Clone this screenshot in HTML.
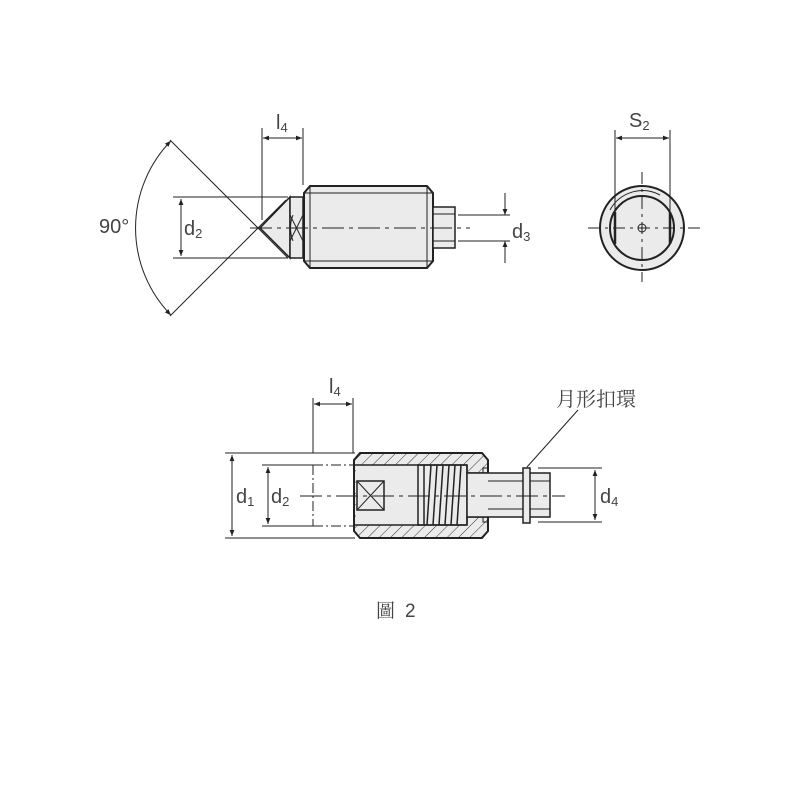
<!DOCTYPE html>
<html><head><meta charset="utf-8"><style>
html,body{margin:0;padding:0;background:#fff;}
svg{display:block}
text{font-family:"Liberation Sans","Noto Sans CJK TC",sans-serif;fill:#444;}
</style></head><body>
<svg width="800" height="800" viewBox="0 0 800 800" xmlns="http://www.w3.org/2000/svg">
<defs>
<marker id="a" viewBox="0 0 10 10" refX="10" refY="5" markerWidth="9" markerHeight="6" orient="auto-start-reverse" markerUnits="userSpaceOnUse"><path d="M0,1 L10,5 L0,9 z" fill="#222"/></marker>
<pattern id="h" width="8" height="8" patternUnits="userSpaceOnUse" patternTransform="rotate(45)"><rect width="8" height="8" fill="#ebebeb"/><line x1="0" y1="0" x2="0" y2="8" stroke="#333" stroke-width="1"/></pattern>
</defs>
<g stroke="#222" stroke-width="1" fill="none">
<line x1="173" y1="197" x2="288" y2="197"/><line x1="173" y1="258" x2="288" y2="258"/>
<line x1="181" y1="199" x2="181" y2="256" marker-start="url(#a)" marker-end="url(#a)"/>
<line x1="170" y1="140" x2="288" y2="258"/><line x1="170" y1="316" x2="286" y2="200"/>
<path d="M170.9,140.9 A125,125 0 0 0 170.9,315.1" marker-start="url(#a)" marker-end="url(#a)"/>
<line x1="262" y1="128" x2="262" y2="220"/><line x1="303" y1="128" x2="303" y2="185"/>
<line x1="263" y1="138" x2="302" y2="138" marker-start="url(#a)" marker-end="url(#a)"/>
<path d="M260,228 L290,197 L290,258 Z" fill="#ebebeb" stroke-width="1.5"/>
<rect x="290" y="197" width="13" height="61" fill="#ebebeb" stroke-width="1.5"/>
<line x1="290" y1="215" x2="303" y2="241"/><line x1="290" y1="241" x2="303" y2="215"/>
<path d="M293,215 Q288,228 293,241"/>
<path d="M310,186 L427,186 L433,193 L433,261 L427,268 L310,268 L304,261 L304,193 Z" fill="#ebebeb" stroke-width="2"/>
<line x1="304" y1="193" x2="433" y2="193"/><line x1="304" y1="261" x2="433" y2="261"/>
<line x1="310" y1="186" x2="310" y2="268"/><line x1="427" y1="186" x2="427" y2="268"/>
<rect x="433" y="207" width="22" height="41" fill="#ebebeb" stroke-width="1.5"/>
<line x1="433" y1="214" x2="455" y2="214"/><line x1="433" y1="241" x2="455" y2="241"/>
<line x1="250" y1="228" x2="470" y2="228" stroke-dasharray="22,5,4,5"/>
<line x1="458" y1="215" x2="510" y2="215"/><line x1="458" y1="241" x2="510" y2="241"/>
<line x1="505" y1="193" x2="505" y2="215" marker-end="url(#a)"/>
<line x1="505" y1="263" x2="505" y2="241" marker-end="url(#a)"/>
<circle cx="642" cy="228" r="42" fill="#ebebeb" stroke-width="2"/>
<path d="M610,210 A37,37 0 0 1 660,195"/>
<circle cx="642" cy="228" r="32" fill="#ebebeb" stroke-width="2"/>
<line x1="615" y1="212" x2="615" y2="244" stroke-width="2.5"/><line x1="670" y1="212" x2="670" y2="244" stroke-width="2.5"/>
<circle cx="642" cy="228" r="4"/>
<line x1="588" y1="228" x2="700" y2="228" stroke-dasharray="12,5,3,5"/>
<line x1="642" y1="172" x2="642" y2="282" stroke-dasharray="12,5,3,5"/>
<line x1="615" y1="130" x2="615" y2="212"/><line x1="670" y1="130" x2="670" y2="212"/>
<line x1="616" y1="138" x2="669" y2="138" marker-start="url(#a)" marker-end="url(#a)"/>
<line x1="225" y1="453" x2="355" y2="453"/><line x1="225" y1="538" x2="355" y2="538"/>
<line x1="232" y1="455" x2="232" y2="536" marker-start="url(#a)" marker-end="url(#a)"/>
<line x1="262" y1="465" x2="313" y2="465"/><line x1="262" y1="526" x2="313" y2="526"/>
<line x1="268" y1="467" x2="268" y2="524" marker-start="url(#a)" marker-end="url(#a)"/>
<path d="M313,465 H355 M313,526 H355 M313,465 V526" stroke-dasharray="10,3,2,3"/>
<line x1="313" y1="398" x2="313" y2="453"/><line x1="353" y1="398" x2="353" y2="453"/>
<line x1="314" y1="404" x2="352" y2="404" marker-start="url(#a)" marker-end="url(#a)"/>
<path d="M360,453 L482,453 L488,460 L488,531 L482,538 L360,538 L354,531 L354,460 Z" fill="url(#h)" stroke-width="2"/>
<rect x="356" y="465" width="112" height="60" fill="#ebebeb" stroke="none"/>
<rect x="467" y="473" width="22" height="44" fill="#ebebeb" stroke="none"/>
<line x1="354" y1="465" x2="467" y2="465" stroke-width="1.5"/><line x1="354" y1="525" x2="467" y2="525" stroke-width="1.5"/>
<path d="M467,465 V473 H489 M467,525 V517 H489" stroke-width="1.5"/>
<path d="M483,473 V468 H488 M483,517 V522 H488"/>
<rect x="357" y="481" width="27" height="29" stroke-width="1.5"/>
<line x1="357" y1="481" x2="384" y2="510"/><line x1="357" y1="510" x2="384" y2="481"/>
<rect x="418" y="465" width="49" height="60" stroke-width="1.5"/>
<g stroke-width="1.5">
<line x1="424" y1="465" x2="424" y2="525"/><line x1="431" y1="465" x2="427" y2="525"/>
<line x1="437" y1="465" x2="433" y2="525"/><line x1="443" y1="465" x2="439" y2="525"/>
<line x1="449" y1="465" x2="445" y2="525"/><line x1="455" y1="465" x2="451" y2="525"/>
<line x1="461" y1="465" x2="457" y2="525"/>
</g>
<rect x="467" y="473" width="83" height="44" fill="#ebebeb" stroke-width="1.5"/>
<line x1="488" y1="481" x2="550" y2="481"/><line x1="488" y1="509" x2="550" y2="509"/>
<rect x="523" y="468" width="7" height="55" fill="#ebebeb" stroke-width="1.5"/>
<line x1="300" y1="496" x2="565" y2="496" stroke-dasharray="22,5,4,5"/>
<line x1="538" y1="468" x2="602" y2="468"/><line x1="538" y1="522" x2="602" y2="522"/>
<line x1="595" y1="470" x2="595" y2="520" marker-start="url(#a)" marker-end="url(#a)"/>
<line x1="578" y1="410" x2="527" y2="467"/>
</g>
<g font-size="20">
<text x="99" y="233" font-size="20">90°</text>
<text x="184" y="235">d<tspan font-size="13" dy="3">2</tspan></text>
<text x="276" y="129">l<tspan font-size="13" dy="3">4</tspan></text>
<text x="512" y="238">d<tspan font-size="13" dy="3">3</tspan></text>
<text x="629" y="127">S<tspan font-size="13" dy="3">2</tspan></text>
<text x="329" y="393">l<tspan font-size="13" dy="3">4</tspan></text>
<text x="236" y="503">d<tspan font-size="13" dy="3">1</tspan></text>
<text x="271" y="503">d<tspan font-size="13" dy="3">2</tspan></text>
<text x="600" y="503">d<tspan font-size="13" dy="3">4</tspan></text>
<text x="556" y="406" font-size="20" style="font-family:'Noto Serif CJK SC','Noto Sans CJK TC',serif">月形扣環</text>
<text x="376" y="617" font-size="19" style="font-family:'Noto Serif CJK SC','Noto Sans CJK TC',serif">圖</text>
<text x="405" y="617" font-size="19">2</text>
</g>
</svg>
</body></html>
